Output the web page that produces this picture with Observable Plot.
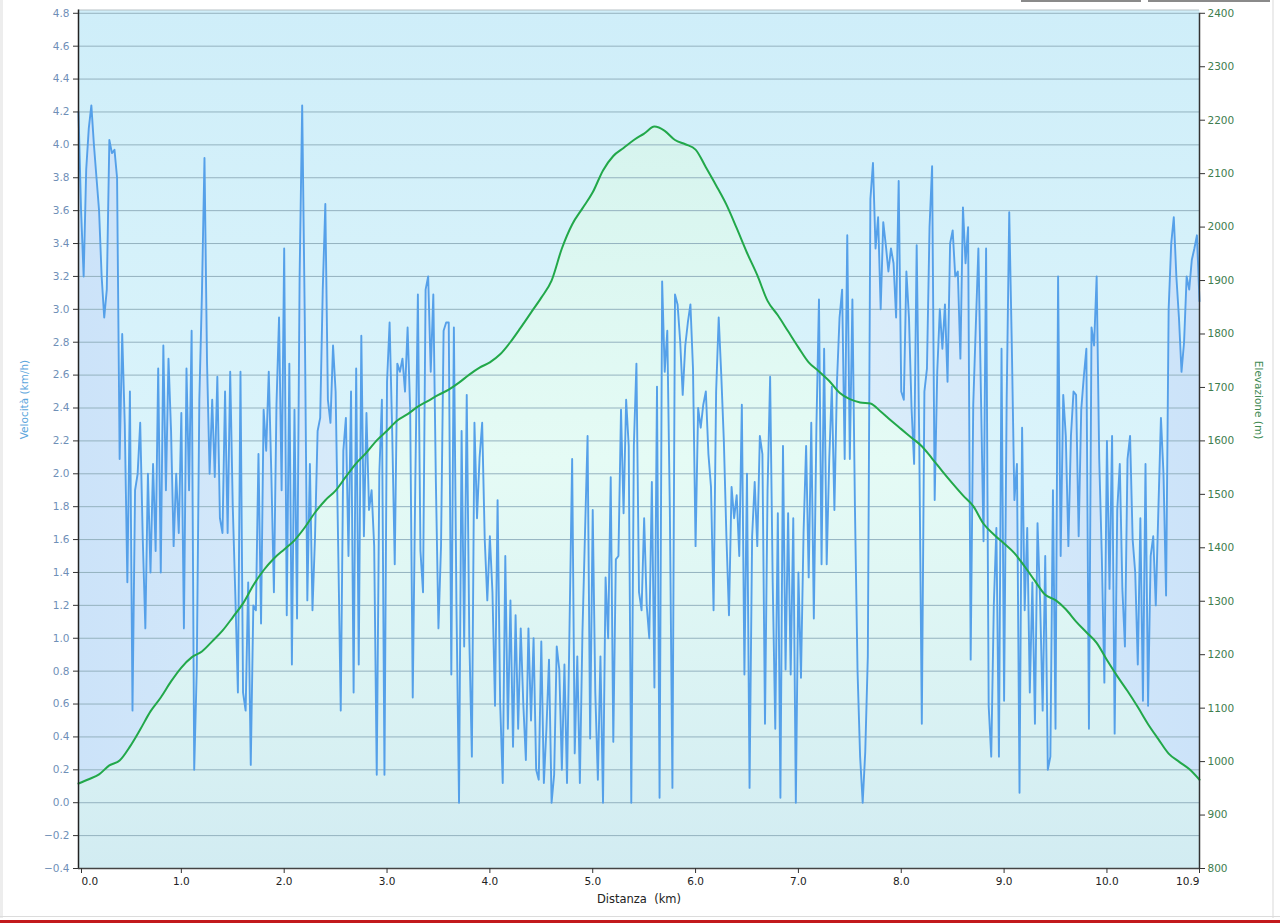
<!DOCTYPE html>
<html>
<head>
<meta charset="utf-8">
<script src="https://cdn.jsdelivr.net/npm/d3@7"></script>
<script src="https://cdn.jsdelivr.net/npm/@observablehq/plot@0.6"></script>
<style>
  html, body { margin: 0; padding: 0; background: #ffffff; overflow: hidden; }
  #wrap { position: relative; width: 1280px; height: 923px; }
  .deco { position: absolute; pointer-events: none; }
</style>
</head>
<body>
<div id="wrap"></div>
<script>
// Velocity (km/h), one reading every 0.025 km from 0.0 to 10.9 km
const speedKmh = [
  4.2, 3.6, 3.2, 3.85, 4.1, 4.24, 4.0, 3.8, 3.6, 3.2, 2.95, 3.12, 4.03, 3.95, 3.97, 3.8, 2.09, 2.85, 2.3, 1.34,
  2.5, 0.56, 1.9, 2.0, 2.31, 1.6, 1.06, 2.0, 1.4, 2.06, 1.53, 2.64, 1.4, 2.78, 1.9, 2.7, 2.26, 1.56, 2.0, 1.64,
  2.37, 1.06, 2.64, 1.9, 2.87, 0.2, 0.81, 2.45, 3.09, 3.92, 2.67, 2.0, 2.45, 1.98, 2.59, 1.73, 1.64, 2.5, 1.64, 2.62,
  1.8, 1.26, 0.67, 2.62, 0.67, 0.56, 1.34, 0.23, 1.2, 1.17, 2.12, 1.09, 2.39, 2.14, 2.62, 2.0, 1.28, 2.42, 2.95, 1.9,
  3.37, 1.14, 2.67, 0.84, 2.39, 1.12, 3.2, 4.24, 2.95, 1.23, 2.06, 1.17, 1.62, 2.26, 2.34, 3.12, 3.64, 2.45, 2.31, 2.78,
  2.5, 1.56, 0.56, 2.14, 2.34, 1.5, 2.5, 0.67, 2.64, 0.84, 2.84, 1.62, 2.37, 1.78, 1.9, 1.56, 0.17, 2.0, 2.45, 0.17,
  2.56, 2.92, 2.26, 1.45, 2.67, 2.62, 2.7, 2.5, 2.89, 2.39, 0.64, 1.95, 3.09, 1.53, 1.28, 3.12, 3.2, 2.62, 3.09, 1.95,
  1.06, 1.56, 2.87, 2.92, 2.92, 0.78, 2.89, 1.2, 0.0, 2.26, 0.95, 2.48, 1.0, 0.28, 2.31, 1.73, 2.1, 2.31, 1.6, 1.23,
  1.62, 1.28, 0.59, 1.84, 0.6, 0.12, 1.5, 0.45, 1.23, 0.34, 1.14, 0.45, 1.06, 0.6, 0.26, 1.06, 0.5, 1.0, 0.2, 0.14,
  0.98, 0.12, 0.45, 0.87, 0.0, 0.17, 0.95, 0.81, 0.2, 0.84, 0.12, 1.09, 2.09, 0.3, 0.89, 0.12, 1.03, 1.64, 2.23, 0.39,
  1.78, 0.67, 0.14, 0.89, 0.0, 1.37, 1.0, 1.98, 0.37, 1.48, 1.5, 2.39, 1.76, 2.45, 2.17, 0.0, 2.17, 2.67, 1.28, 1.17,
  1.73, 1.2, 1.0, 1.95, 0.7, 2.53, 0.03, 3.17, 2.62, 2.87, 1.78, 0.09, 3.09, 3.03, 2.81, 2.48, 2.78, 2.92, 3.03, 2.64,
  1.56, 2.4, 2.28, 2.42, 2.5, 2.12, 1.92, 1.17, 2.5, 2.95, 2.6, 2.2, 1.62, 1.14, 1.92, 1.73, 1.87, 1.5, 2.42, 0.78,
  2.0, 0.09, 1.62, 1.95, 1.56, 2.23, 2.12, 0.48, 1.9, 2.59, 1.34, 0.45, 1.76, 0.03, 2.17, 0.81, 1.76, 0.78, 1.73, 0.0,
  1.4, 0.76, 1.64, 2.17, 1.37, 2.31, 1.12, 2.28, 3.06, 1.45, 2.76, 1.45, 2.09, 2.53, 1.78, 2.56, 2.95, 3.12, 2.09, 3.45,
  2.09, 3.06, 1.78, 0.8, 0.28, 0.0, 0.31, 0.89, 3.67, 3.89, 3.37, 3.56, 3.0, 3.53, 3.39, 3.23, 3.37, 3.28, 2.95, 3.78,
  2.5, 2.45, 3.23, 2.95, 2.4, 2.06, 3.39, 2.2, 0.48, 2.5, 2.64, 3.5, 3.87, 1.84, 2.62, 3.0, 2.76, 3.03, 2.56, 3.4,
  3.48, 3.2, 3.23, 2.7, 3.62, 3.28, 3.5, 0.87, 2.42, 2.9, 3.37, 2.48, 1.59, 3.37, 0.59, 0.28, 1.2, 1.67, 0.28, 2.76,
  0.62, 2.45, 3.59, 2.78, 1.84, 2.06, 0.06, 2.28, 1.17, 1.67, 0.67, 1.34, 0.48, 1.7, 1.23, 0.56, 1.5, 0.2, 0.28, 1.9,
  0.45, 3.2, 1.5, 2.48, 2.23, 1.56, 2.23, 2.5, 2.48, 1.62, 2.39, 2.59, 2.76, 0.45, 2.89, 2.78, 3.2, 2.09, 1.5, 0.73,
  2.2, 1.3, 2.23, 0.42, 1.78, 2.06, 1.3, 0.95, 2.09, 2.23, 1.6, 1.4, 0.84, 1.73, 0.62, 2.06, 0.59, 1.5, 1.62, 1.2,
  1.78, 2.34, 2.0, 1.26, 3.0, 3.4, 3.56, 3.2, 2.95, 2.62, 2.8, 3.2, 3.12, 3.3, 3.37, 3.45, 3.05
];
const speedStepKm = 0.025;

// Elevation (m), one reading every 0.1 km from 0.0 to 10.9 km
const elevationM = [
  959, 967, 976, 993, 1002, 1028, 1060, 1094, 1120, 1150,
  1176, 1195, 1206, 1225, 1245, 1270, 1296, 1330, 1358, 1380,
  1397, 1414, 1438, 1466, 1489, 1507, 1533, 1558, 1578, 1601,
  1619, 1638, 1650, 1664, 1675, 1686, 1696, 1709, 1724, 1737,
  1747, 1762, 1785, 1812, 1840, 1868, 1900, 1960, 2005, 2035,
  2065, 2106, 2133, 2148, 2163, 2175, 2188, 2180, 2163, 2155,
  2145, 2112, 2078, 2042, 1998, 1952, 1910, 1862, 1835, 1805,
  1775, 1747, 1730, 1712, 1690, 1678, 1672, 1670, 1655, 1638,
  1622, 1606, 1590, 1567, 1543, 1520, 1498, 1478, 1445, 1425,
  1408, 1390, 1365, 1338, 1312, 1302, 1285, 1262, 1242, 1222,
  1190, 1160, 1132, 1102, 1070, 1042, 1015, 1000, 986, 966
];
const elevationStepKm = 0.1;

// Tick labels
const speedTicks = [-0.4, -0.2, 0.0, 0.2, 0.4, 0.6, 0.8, 1.0, 1.2, 1.4, 1.6, 1.8, 2.0, 2.2, 2.4, 2.6,
                    2.8, 3.0, 3.2, 3.4, 3.6, 3.8, 4.0, 4.2, 4.4, 4.6, 4.8];
const elevationTicks = [800, 900, 1000, 1100, 1200, 1300, 1400, 1500, 1600, 1700, 1800, 1900, 2000,
                        2100, 2200, 2300, 2400];
const distanceTicks = [0, 1, 2, 3, 4, 5, 6, 7, 8, 9, 10, 10.9];

const labelSpeed = "Velocità (km/h)";
const labelElevation = "Elevazione (m)";
const labelDistance = "Distanza\u00a0\u00a0(km)";

// Dual-axis mapping: elevation range [800, 2400] shares the frame with speed range [-0.4, 4.8]
const vMin = -0.4, vMax = 4.8, eMin = 800, eMax = 2400;
const toV = e => vMin + (e - eMin) * (vMax - vMin) / (eMax - eMin);
const toE = v => eMin + (v - vMin) * (eMax - eMin) / (vMax - vMin);

const speed = speedKmh.map((v, i) => ({ d: +(i * speedStepKm).toFixed(3), v }));
const elev = elevationM.map((e, i) => ({ d: +(i * elevationStepKm).toFixed(2), e, y: toV(e) }));

const fmt1 = d3.format(".1f");
const font = "'DejaVu Sans', Verdana, sans-serif";

const svg = Plot.plot({
  width: 1280,
  height: 923,
  marginLeft: 78,
  marginRight: 81,
  marginTop: 9.5,
  marginBottom: 55,
  style: { fontFamily: font, fontSize: "10.5px", background: "transparent", overflow: "visible" },
  x: { domain: [0, 10.9] },
  y: { domain: [-0.4, 4.82] },
  marks: [
    Plot.frame({ fill: "url(#bgGrad)", stroke: null }),
    Plot.areaY(speed, { x: "d", y1: vMin, y2: "v", fill: "url(#velGrad)" }),
    Plot.areaY(elev, { x: "d", y1: vMin, y2: "y", fill: "url(#eleGrad)", curve: "monotone-x" }),
    Plot.gridY(speedTicks, { stroke: "#94b2bf", strokeOpacity: 1, strokeWidth: 1 }),
    Plot.lineY(speed, { x: "d", y: "v", stroke: "#55a0e9", strokeWidth: 1.9, strokeLinejoin: "round" }),
    Plot.lineY(elev, { x: "d", y: "y", stroke: "#22a84a", strokeWidth: 2, curve: "monotone-x" }),
    Plot.ruleY([4.82], { stroke: "#b6c0c4", strokeWidth: 1 }),
    Plot.ruleX([0], { stroke: "#222", strokeWidth: 1.5 }),
    Plot.ruleX([10.9], { stroke: "#333", strokeWidth: 1.5, y1: -0.4, y2: 4.8 }),
    Plot.ruleY([vMin], { stroke: "#444", strokeWidth: 1.5 }),
    Plot.axisY(speedTicks, {
      anchor: "left", tickFormat: fmt1, tickSize: 5, tickPadding: 4,
      stroke: "#333", fill: "#6f8fb7", fontSize: 10.5, label: null
    }),
    Plot.axisY(elevationTicks.map(toV), {
      anchor: "right", tickFormat: v => String(Math.round(toE(v))), tickSize: 5, tickPadding: 3,
      stroke: "#333", fill: "#3e7d4e", fontSize: 10.5, label: null
    }),
    Plot.axisX(distanceTicks.slice(1, -1), {
      anchor: "bottom", tickFormat: fmt1, tickSize: 5, tickPadding: 4,
      stroke: "#333", fill: "#222", fontSize: 10.5, label: null
    }),
    Plot.axisX([distanceTicks[0]], {
      anchor: "bottom", tickFormat: fmt1, tickSize: 5, tickPadding: 4, textAnchor: "start", dx: 3,
      stroke: "#333", fill: "#222", fontSize: 10.5, label: null
    }),
    Plot.axisX([distanceTicks[distanceTicks.length - 1]], {
      anchor: "bottom", tickFormat: fmt1, tickSize: 5, tickPadding: 4, textAnchor: "end", dx: 0,
      stroke: "#333", fill: "#222", fontSize: 10.5, label: null
    }),
    Plot.text([labelSpeed], {
      frameAnchor: "left", dx: -54, rotate: -90, fill: "#5aa5dc", fontSize: 10.5
    }),
    Plot.text([labelElevation], {
      frameAnchor: "right", dx: 59, rotate: 90, fill: "#3e8a52", fontSize: 10.5
    }),
    Plot.text([labelDistance], {
      frameAnchor: "bottom", dy: 34, fill: "#222", fontSize: 11.5
    })
  ]
});

svg.insertAdjacentHTML("afterbegin", `
<defs>
  <linearGradient id="bgGrad" x1="0" y1="0" x2="0" y2="1">
    <stop offset="0" stop-color="#cfeef9"/>
    <stop offset="0.55" stop-color="#dbf4fb"/>
    <stop offset="1" stop-color="#d3eef5"/>
  </linearGradient>
  <linearGradient id="velGrad" x1="0" y1="0" x2="1" y2="0">
    <stop offset="0" stop-color="#cce3f9"/>
    <stop offset="0.5" stop-color="#e3f3fb"/>
    <stop offset="1" stop-color="#cce3f9"/>
  </linearGradient>
  <linearGradient id="eleGrad" x1="0" y1="0" x2="0" y2="1">
    <stop offset="0" stop-color="#d6f4ee"/>
    <stop offset="0.45" stop-color="#e5fbf5"/>
    <stop offset="1" stop-color="#d2ecf2"/>
  </linearGradient>
</defs>`);

const wrap = document.getElementById("wrap");
wrap.appendChild(svg);

// window chrome around the chart
const deco = [
  "left:0;top:0;width:3px;height:918px;background:#ededed;",
  "left:1272px;top:0;width:2px;height:918px;background:#ececec;",
  "left:0;top:916px;width:1280px;height:1px;background:#dcdcdc;",
  "left:0;top:920px;width:1280px;height:3px;background:#c2191c;",
  "left:1021px;top:0;width:120px;height:2px;background:#8a8a8a;",
  "left:1148px;top:0;width:122px;height:2px;background:#8a8a8a;"
];
for (const css of deco) {
  const div = document.createElement("div");
  div.className = "deco";
  div.style.cssText = css;
  wrap.appendChild(div);
}
</script>
</body>
</html>
